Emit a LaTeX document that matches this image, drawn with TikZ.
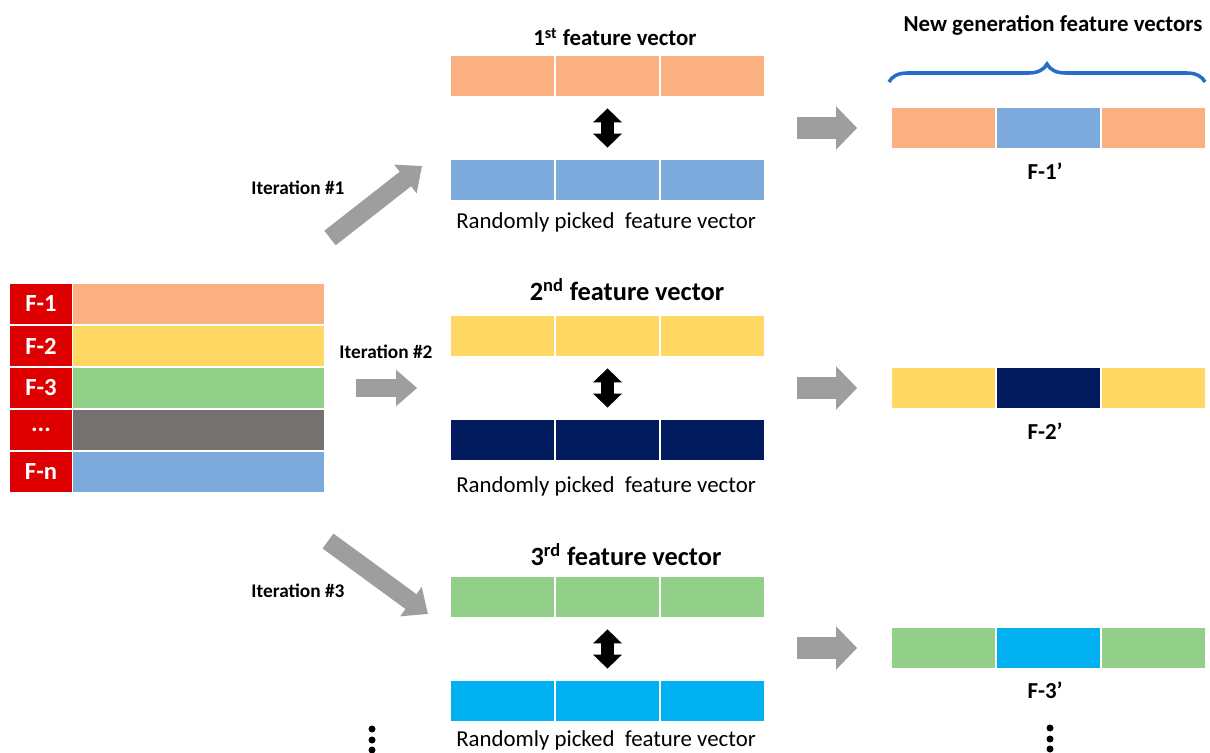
\documentclass[tikz,border=0pt]{standalone}
\usepackage{fontspec}
\setmainfont{Carlito}
\usepackage{xcolor}
\usepackage{tikz}
\usetikzlibrary{calc}
\usetikzlibrary{arrows.meta,decorations.pathreplacing}
\definecolor{fpeach}{RGB}{250,176,128}
\definecolor{fyellow}{RGB}{255,216,100}
\definecolor{fgreen}{RGB}{146,208,138}
\definecolor{fgrey}{RGB}{118,113,113}
\definecolor{fblue}{RGB}{125,170,220}
\definecolor{fnavy}{RGB}{2,26,94}
\definecolor{fcyan}{RGB}{0,176,240}
\definecolor{fred}{RGB}{222,0,0}
\definecolor{arrowgrey}{RGB}{158,158,158}
\definecolor{braceblue}{RGB}{36,110,200}
\tikzstyle{cell}=[rectangle,draw=white,line width=1pt,inner sep=0pt,minimum width=2.1cm,minimum height=0.82cm]
\tikzstyle{tag}=[rectangle,fill=fred,draw=white,line width=1pt,text=white,inner sep=0pt,minimum width=1.26cm,minimum height=0.84cm,font=\fontsize{14}{16}\selectfont\bfseries]
\tikzstyle{bar}=[rectangle,draw=white,line width=1pt,inner sep=0pt,minimum width=5.05cm,minimum height=0.84cm]
\tikzstyle{fatarrow}=[draw=arrowgrey,line width=12pt,-{Triangle[length=12pt,width=24pt]}]
\tikzstyle{slimarrow}=[draw=arrowgrey,line width=10.5pt,-{Triangle[length=12pt,width=20pt]}]
\tikzstyle{swaparrow}=[draw=black,line width=7pt,{Triangle[length=8pt,width=16pt]}-{Triangle[length=8pt,width=16pt]}]
\tikzstyle{caption}=[font=\fontsize{13}{15}\selectfont,inner sep=0pt]
\tikzstyle{heading}=[font=\fontsize{13}{15}\selectfont\bfseries,inner sep=0pt]
\tikzstyle{bigheading}=[font=\fontsize{15}{18}\selectfont\bfseries,inner sep=0pt]
\tikzstyle{iterlabel}=[font=\fontsize{11}{13}\selectfont\bfseries,inner sep=0pt]
\tikzstyle{dot}=[circle,fill=black,inner sep=0pt,minimum size=0.14cm]

\begin{document}
\begin{tikzpicture}[x=0.02cm,y=-0.02cm]
	\useasboundingbox (0,0) rectangle (1210,753);
	% the table of feature vectors
	\node[tag] (f1) at (41,304) {F-1};
	\node[tag] (f2) at (41,346) {F-2};
	\node[tag] (f3) at (41,388) {F-3};
	\node[tag] (f4) at (41,430) {...};
	\node[tag] (f5) at (41,472) {F-n};
	\node[bar,fill=fpeach] (b1) at (198.75,304) {};
	\node[bar,fill=fyellow] (b2) at (198.75,346) {};
	\node[bar,fill=fgreen] (b3) at (198.75,388) {};
	\node[bar,fill=fgrey] (b4) at (198.75,430) {};
	\node[bar,fill=fblue] (b5) at (198.75,472) {};
	\node[dot] (dl1) at (372,729) {};
	\node[dot] (dl2) at (372,740) {};
	\node[dot] (dl3) at (372,750) {};

	% iteration 1
	\node[heading] (h1) at (615,37) {1\textsuperscript{st} feature vector};
	\node[cell,fill=fpeach] (t1a) at (502.5,76) {};
	\node[cell,fill=fpeach] (t1b) at (607.5,76) {};
	\node[cell,fill=fpeach] (t1c) at (712.5,76) {};
	\node[cell,fill=fblue] (r1a) at (502.5,180) {};
	\node[cell,fill=fblue] (r1b) at (607.5,180) {};
	\node[cell,fill=fblue] (r1c) at (712.5,180) {};
	\node[caption] (p1) at (606,222) {Randomly picked\ \ feature vector};
	\draw[swaparrow,shorten <=0.22cm,shorten >=0.22cm] (t1b.south) -- (r1b.north);
	\node[iterlabel] (it1) at (298,188) {Iteration \#1};
	\coordinate (i1s) at (330,238);
	\coordinate (i1e) at (422,166);
	\draw[slimarrow] (i1s) -- (i1e);

	% iteration 2
	\node[bigheading] (h2) at (627,290) {2\textsuperscript{nd} feature vector};
	\node[cell,fill=fyellow] (t2a) at (502.5,336) {};
	\node[cell,fill=fyellow] (t2b) at (607.5,336) {};
	\node[cell,fill=fyellow] (t2c) at (712.5,336) {};
	\node[cell,fill=fnavy] (r2a) at (502.5,440) {};
	\node[cell,fill=fnavy] (r2b) at (607.5,440) {};
	\node[cell,fill=fnavy] (r2c) at (712.5,440) {};
	\node[caption] (p2) at (606,486) {Randomly picked\ \ feature vector};
	\draw[swaparrow,shorten <=0.22cm,shorten >=0.22cm] (t2b.south) -- (r2b.north);
	\node[iterlabel] (it2) at (386,352) {Iteration \#2};
	\draw[slimarrow,shorten <=0.6cm,shorten >=0.64cm] (b3.east) -- (b3.east -| t2a.west);

	% iteration 3
	\node[bigheading] (h3) at (626,555) {3\textsuperscript{rd} feature vector};
	\node[cell,fill=fgreen] (t3a) at (502.5,597) {};
	\node[cell,fill=fgreen] (t3b) at (607.5,597) {};
	\node[cell,fill=fgreen] (t3c) at (712.5,597) {};
	\node[cell,fill=fcyan] (r3a) at (502.5,701) {};
	\node[cell,fill=fcyan] (r3b) at (607.5,701) {};
	\node[cell,fill=fcyan] (r3c) at (712.5,701) {};
	\node[caption] (p3) at (606,740) {Randomly picked\ \ feature vector};
	\draw[swaparrow,shorten <=0.22cm,shorten >=0.22cm] (t3b.south) -- (r3b.north);
	\node[iterlabel] (it3) at (298,591) {Iteration \#3};
	\coordinate (i3s) at (328,541);
	\coordinate (i3e) at (428,614);
	\draw[slimarrow] (i3s) -- (i3e);

	% new generation
	\node[heading] (ng) at (1053,25) {New generation feature vectors};
	\draw[decorate,decoration={brace,amplitude=0.36cm},draw=braceblue,line width=2pt] (889,82) -- (1205,82);
	\node[cell,fill=fpeach] (n1a) at (943.5,128) {};
	\node[cell,fill=fblue] (n1b) at (1048.5,128) {};
	\node[cell,fill=fpeach] (n1c) at (1153.5,128) {};
	\node[heading] (l1) at (1045,171) {F-1'};
	\draw[fatarrow,shorten <=0.62cm,shorten >=0.66cm] (n1a.west -| t1c.east) -- (n1a.west);
	\node[cell,fill=fyellow] (n2a) at (943.5,388) {};
	\node[cell,fill=fnavy] (n2b) at (1048.5,388) {};
	\node[cell,fill=fyellow] (n2c) at (1153.5,388) {};
	\node[heading] (l2) at (1045,431) {F-2'};
	\draw[fatarrow,shorten <=0.62cm,shorten >=0.66cm] (n2a.west -| t2c.east) -- (n2a.west);
	\node[cell,fill=fgreen] (n3a) at (943.5,648) {};
	\node[cell,fill=fcyan] (n3b) at (1048.5,648) {};
	\node[cell,fill=fgreen] (n3c) at (1153.5,648) {};
	\node[heading] (l3) at (1045,690) {F-3'};
	\draw[fatarrow,shorten <=0.62cm,shorten >=0.66cm] (n3a.west -| t3c.east) -- (n3a.west);
	\node[dot] (dr1) at (1050,728) {};
	\node[dot] (dr2) at (1050,739) {};
	\node[dot] (dr3) at (1050,749) {};
\end{tikzpicture}
\end{document}
